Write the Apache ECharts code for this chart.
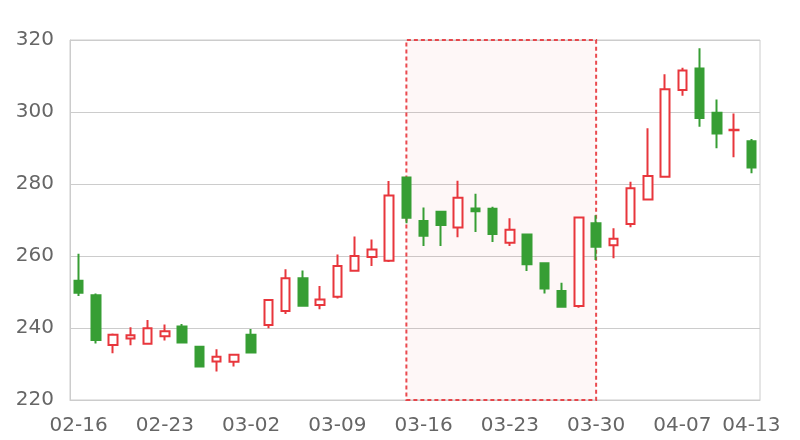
<!DOCTYPE html>
<html>
<head>
<meta charset="utf-8">
<script src="https://cdn.jsdelivr.net/npm/echarts@6/dist/echarts.min.js"></script>
<style>html,body{margin:0;padding:0;background:#fff}#main{width:800px;height:440px}</style>
</head>
<body>
<div id="main"></div>
<script>
const dates = ['02-16','02-17','02-18','02-19','02-20','02-23','02-24','02-25','02-26','02-27',
  '03-02','03-03','03-04','03-05','03-06','03-09','03-10','03-11','03-12','03-13',
  '03-16','03-17','03-18','03-19','03-20','03-23','03-24','03-25','03-26','03-27',
  '03-30','03-31','04-01','04-02','04-03','04-07','04-08','04-09','04-10','04-13'];
const openVals  = [253.1,249.1,235.3,237.1,235.6,237.7,240.4,234.8,230.7,230.6,238.1,240.8,244.7,253.8,246.4,248.7,255.9,259.7,258.7,281.8,269.7,272.3,267.9,273.2,273.1,263.7,266.0,258.0,250.3,246.1,269.1,263.0,268.9,275.7,282.0,306.1,312.1,299.8,294.9,291.9];
const closeVals = [249.8,236.7,238.1,238.0,239.9,239.1,236.0,229.3,232.0,232.6,233.2,247.8,253.8,246.2,247.9,257.2,260.0,261.8,276.8,270.6,265.6,268.6,276.2,272.4,266.1,267.3,257.7,251.0,245.9,270.7,262.6,264.8,278.8,282.2,306.3,311.5,298.3,294.0,295.1,284.6];
const lowVals   = [248.9,235.7,233.0,235.2,235.5,236.5,235.9,229.0,227.9,229.3,232.9,239.9,243.9,246.0,245.2,248.2,255.6,257.2,258.3,269.1,262.8,262.8,265.2,266.7,263.9,262.8,255.8,249.6,245.8,245.6,258.9,259.4,268.0,275.4,281.9,304.5,295.9,289.9,287.4,283.0];
const highVals  = [260.6,249.6,238.5,240.2,242.2,241.0,241.1,235.1,234.1,232.8,239.7,247.9,256.3,256.0,251.7,260.4,265.4,264.6,280.8,281.9,273.5,272.4,280.9,277.3,273.7,270.5,266.1,258.1,252.6,270.8,271.3,267.7,280.6,295.5,310.5,312.3,317.7,303.5,299.6,292.5];
const highlightStart = '03-13';
const highlightEnd = '03-30';

const RED = '#e8363c';
const GREEN = '#379e34';

const candleData = dates.map((d, i) => [openVals[i], closeVals[i], lowVals[i], highVals[i]]);

const chart = echarts.init(document.getElementById('main'), null, {renderer: 'canvas'});
chart.setOption({
  animation: false,
  backgroundColor: '#fff',
  grid: {left: 70, right: 40, top: 40, bottom: 40, containLabel: false, show: true, borderColor: '#cccccc', borderWidth: 1},
  xAxis: {
    type: 'category',
    data: dates,
    boundaryGap: true,
    axisLine: {show: true, lineStyle: {color: '#cccccc'}},
    axisTick: {show: false},
    splitLine: {show: false},
    axisLabel: {
      interval: function (i) { return i % 5 === 0 || i === dates.length - 1; },
      color: '#666666', fontSize: 20, fontFamily: 'DejaVu Sans', margin: 16
    }
  },
  yAxis: {
    type: 'value',
    min: 220, max: 320, interval: 20,
    axisLine: {show: true, lineStyle: {color: '#cccccc'}},
    axisTick: {show: false},
    splitLine: {show: true, lineStyle: {color: '#cccccc'}},
    axisLabel: {color: '#666666', fontSize: 20, fontFamily: 'DejaVu Sans', margin: 16}
  },
  series: [{
    type: 'candlestick',
    data: candleData,
    barWidth: 9,
    itemStyle: {
      color: '#ffffff',
      color0: GREEN,
      borderColor: RED,
      borderColor0: GREEN,
      borderWidth: 2
    },
    markArea: {
      silent: true,
      itemStyle: {
        color: 'rgba(232,54,60,0.04)',
        borderColor: 'rgba(232,54,60,0.9)',
        borderWidth: 2,
        borderType: [4, 3]
      },
      data: [[{xAxis: highlightStart}, {xAxis: highlightEnd}]]
    }
  }]
});
</script>
</body>
</html>
